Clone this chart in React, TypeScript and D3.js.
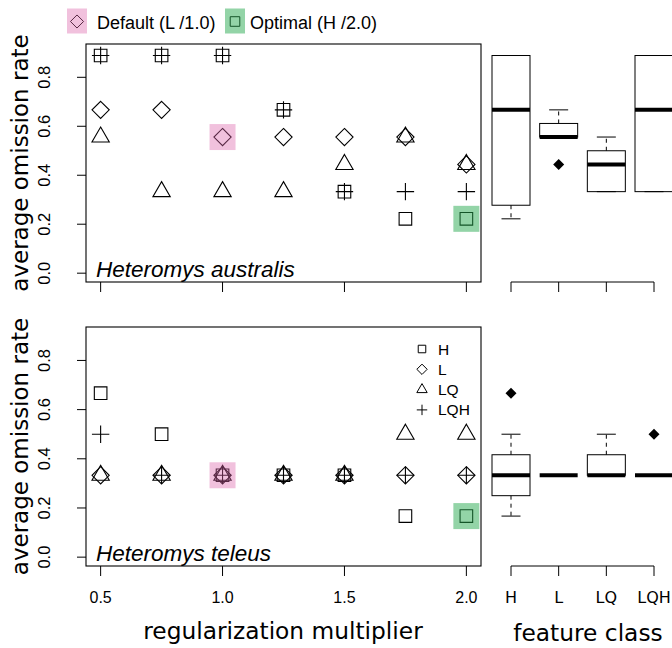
import React, { useRef, useEffect } from 'react';
import * as d3 from 'd3';

const multipliers = [0.5, 0.75, 1.0, 1.25, 1.5, 1.75, 2.0];
const featureClasses = ['H', 'L', 'LQ', 'LQH'];
const yTicks = [0, 0.2, 0.4, 0.6, 0.8];
const xTicks = [0.5, 1.0, 1.5, 2.0];
const xTickLabels = ['0.5', '1.0', '1.5', '2.0'];
const yTickLabels = ['0.0', '0.2', '0.4', '0.6', '0.8'];

// Heteromys australis
const australisH = [0.889, 0.889, 0.889, 0.667, 0.333, 0.222, 0.222];
const australisL = [0.667, 0.667, 0.556, 0.556, 0.556, 0.556, 0.444];
const australisLQ = [0.556, 0.333, 0.333, 0.333, 0.444, 0.556, 0.444];
const australisLQH = [0.889, 0.889, 0.889, 0.667, 0.333, 0.333, 0.333];

// Heteromys teleus
const teleusH = [0.667, 0.5, 0.333, 0.333, 0.333, 0.167, 0.167];
const teleusL = [0.333, 0.333, 0.333, 0.333, 0.333, 0.333, 0.333];
const teleusLQ = [0.333, 0.333, 0.333, 0.333, 0.333, 0.5, 0.5];
const teleusLQH = [0.5, 0.333, 0.333, 0.333, 0.333, 0.333, 0.333];

const defaultLabel = 'Default (L /1.0)';
const optimalLabel = 'Optimal (H /2.0)';

const PINK = 'rgb(220,100,170)';
const GREEN = 'rgb(40,170,80)';
const SANS = '"Liberation Sans", Arial, sans-serif';
const DEJAVU = '"DejaVu Sans", sans-serif';

// marker outlines, sizes in px (k scales them)
function markerPath(kind, k = 1) {
    if (kind === 'H') {
        const s = 6.3 * k;
        return `M${-s},${-s}H${s}V${s}H${-s}Z`;
    }
    if (kind === 'L') {
        const d = 8.6 * k;
        return `M0,${-d}L${d},0L0,${d}L${-d},0Z`;
    }
    if (kind === 'LQ') {
        const r = 10 * k;
        return `M0,${-r}L${r * 0.866},${r / 2}L${-r * 0.866},${r / 2}Z`;
    }
    const p = 8.7 * k;
    return `M${-p},0H${p}M0,${-p}V${p}`;
}

// R style boxplot stats (Tukey hinges, 1.5 IQR)
function boxStats(values) {
    const x = values.slice().sort(d3.ascending);
    const n = x.length;
    const n4 = Math.floor((n + 3) / 2) / 2;
    const d = [1, n4, (n + 1) / 2, n + 1 - n4, n];
    const f = d.map(v => 0.5 * (x[Math.floor(v) - 1] + x[Math.ceil(v) - 1]));
    const iqr = f[3] - f[1];
    const lo = f[1] - 1.5 * iqr, hi = f[3] + 1.5 * iqr;
    const inside = x.filter(v => v >= lo && v <= hi);
    return {
        q1: f[1], med: f[2], q3: f[3],
        wlo: d3.min(inside), whi: d3.max(inside),
        out: x.filter(v => v < lo || v > hi)
    };
}

const App = () => {
    const width = 672, height = 648;
    const svgRef = useRef(null);

    useEffect(() => {
        const svg = d3.select(svgRef.current);
        svg.selectAll('*').remove();

        const x = d3.scaleLinear().domain([0.44, 2.06]).range([86, 481]);
        const xb = d3.scaleLinear().domain([1, 4]).range([511, 654]);

        const panels = [
            { top: 44, bottom: 282, name: 'Heteromys australis',
              series: [australisH, australisL, australisLQ, australisLQH], labels: false },
            { top: 327, bottom: 566, name: 'Heteromys teleus',
              series: [teleusH, teleusL, teleusLQ, teleusLQH], labels: true }
        ];

        panels.forEach((p, pi) => {
            const y = d3.scaleLinear().domain([-0.036, 0.936]).range([p.bottom, p.top]);
            const g = svg.append('g');

            // frame
            g.append('rect')
                .attr('x', x.range()[0]).attr('y', p.top)
                .attr('width', x.range()[1] - x.range()[0]).attr('height', p.bottom - p.top)
                .attr('fill', 'none').attr('stroke', '#000').attr('stroke-width', 1.1);

            // y axis
            yTicks.forEach((t, i) => {
                g.append('line')
                    .attr('x1', x.range()[0] - 9).attr('x2', x.range()[0])
                    .attr('y1', y(t)).attr('y2', y(t))
                    .attr('stroke', '#000');
                g.append('text')
                    .attr('transform', `translate(50,${y(t)}) rotate(-90)`)
                    .attr('text-anchor', 'middle')
                    .attr('font-family', SANS).attr('font-size', 16.5)
                    .text(yTickLabels[i]);
            });
            g.append('text')
                .attr('transform', `translate(28,${(p.top + p.bottom) / 2}) rotate(-90)`)
                .attr('text-anchor', 'middle')
                .attr('font-family', DEJAVU).attr('font-size', 23)
                .text('average omission rate');

            // x axis ticks
            xTicks.forEach((t, i) => {
                g.append('line')
                    .attr('x1', x(t)).attr('x2', x(t))
                    .attr('y1', p.bottom).attr('y2', p.bottom + 10)
                    .attr('stroke', '#000');
                if (p.labels) {
                    g.append('text')
                        .attr('x', x(t)).attr('y', 603)
                        .attr('text-anchor', 'middle')
                        .attr('font-family', SANS).attr('font-size', 16)
                        .text(xTickLabels[i]);
                }
            });

            // points
            p.series.forEach((vals, si) => {
                g.selectAll(null)
                    .data(vals)
                    .enter()
                    .append('path')
                    .attr('transform', (d, i) => `translate(${x(multipliers[i])},${y(d)})`)
                    .attr('d', markerPath(featureClasses[si]))
                    .attr('fill', 'none')
                    .attr('stroke', '#000')
                    .attr('stroke-width', 1.1);
            });

            // highlights: default = L at 1.0, optimal = H at 2.0
            const hl = [
                { m: multipliers[2], v: p.series[1][2], c: PINK, o: 0.4 },
                { m: multipliers[6], v: p.series[0][6], c: GREEN, o: 0.5 }
            ];
            hl.forEach(h => {
                g.append('rect')
                    .attr('x', x(h.m) - 13).attr('y', y(h.v) - 13)
                    .attr('width', 26).attr('height', 26)
                    .attr('fill', h.c).attr('fill-opacity', h.o);
            });

            g.append('text')
                .attr('x', 96).attr('y', p.bottom - 5.5)
                .attr('font-family', SANS).attr('font-style', 'italic').attr('font-size', 22.5)
                .text(p.name);

            // boxplots by feature class
            const bg = svg.append('g');
            const half = 19, staple = 9.5;
            p.series.forEach((vals, si) => {
                const s = boxStats(vals);
                const cx = xb(si + 1);
                [[s.q3, s.whi], [s.q1, s.wlo]].forEach(([a, b]) => {
                    if (a !== b) {
                        bg.append('line')
                            .attr('x1', cx).attr('x2', cx).attr('y1', y(a)).attr('y2', y(b))
                            .attr('stroke', '#000').attr('stroke-dasharray', '4,4');
                    }
                    bg.append('line')
                        .attr('x1', cx - staple).attr('x2', cx + staple).attr('y1', y(b)).attr('y2', y(b))
                        .attr('stroke', '#000');
                });
                if (s.q3 > s.q1) {
                    bg.append('rect')
                        .attr('x', cx - half).attr('y', y(s.q3))
                        .attr('width', half * 2).attr('height', y(s.q1) - y(s.q3))
                        .attr('fill', 'none').attr('stroke', '#000');
                }
                bg.append('line')
                    .attr('x1', cx - half).attr('x2', cx + half).attr('y1', y(s.med)).attr('y2', y(s.med))
                    .attr('stroke', '#000').attr('stroke-width', 4);
                s.out.forEach(o => {
                    bg.append('path')
                        .attr('transform', `translate(${cx},${y(o)})`)
                        .attr('d', 'M0,-5.5L5.5,0L0,5.5L-5.5,0Z')
                        .attr('fill', '#000');
                });
            });
            bg.append('line')
                .attr('x1', xb(1)).attr('x2', xb(4)).attr('y1', p.bottom).attr('y2', p.bottom)
                .attr('stroke', '#000');
            featureClasses.forEach((fc, i) => {
                bg.append('line')
                    .attr('x1', xb(i + 1)).attr('x2', xb(i + 1))
                    .attr('y1', p.bottom).attr('y2', p.bottom + 10)
                    .attr('stroke', '#000');
                if (p.labels) {
                    bg.append('text')
                        .attr('x', xb(i + 1)).attr('y', 603)
                        .attr('text-anchor', 'middle')
                        .attr('font-family', DEJAVU).attr('font-size', 16)
                        .text(fc);
                }
            });

            // feature class legend in the lower panel
            if (pi === 1) {
                featureClasses.forEach((fc, i) => {
                    const cy = 349 + i * 20.3;
                    g.append('path')
                        .attr('transform', `translate(422,${cy})`)
                        .attr('d', markerPath(fc, 0.6))
                        .attr('fill', 'none').attr('stroke', '#000');
                    g.append('text')
                        .attr('x', 438).attr('y', cy + 5.5)
                        .attr('font-family', SANS).attr('font-size', 15.5)
                        .text(fc);
                });
            }
        });

        // axis titles
        svg.append('text')
            .attr('x', 283).attr('y', 639)
            .attr('text-anchor', 'middle')
            .attr('font-family', DEJAVU).attr('font-size', 23.3)
            .text('regularization multiplier');
        svg.append('text')
            .attr('x', 588).attr('y', 641)
            .attr('text-anchor', 'middle')
            .attr('font-family', DEJAVU).attr('font-size', 23.3)
            .text('feature class');

        // top legend
        const leg = [
            { kind: 'L', label: defaultLabel, c: PINK, o: 0.4, x: 67, tx: 97 },
            { kind: 'H', label: optimalLabel, c: GREEN, o: 0.5, x: 225, tx: 250 }
        ];
        leg.forEach(l => {
            svg.append('path')
                .attr('transform', `translate(${l.x + 10},21.5)`)
                .attr('d', markerPath(l.kind, 0.76))
                .attr('fill', 'none').attr('stroke', '#000');
            svg.append('rect')
                .attr('x', l.x).attr('y', 8.5).attr('width', 20).attr('height', 25)
                .attr('fill', l.c).attr('fill-opacity', l.o);
            svg.append('text')
                .attr('x', l.tx).attr('y', 28.5)
                .attr('font-family', SANS).attr('font-size', 18)
                .text(l.label);
        });
    }, []);

    return (
        <svg ref={svgRef} width={width} height={height}
            style={{ position: 'absolute', left: 0, top: 0, background: '#fff' }} />
    );
};

export default App;
